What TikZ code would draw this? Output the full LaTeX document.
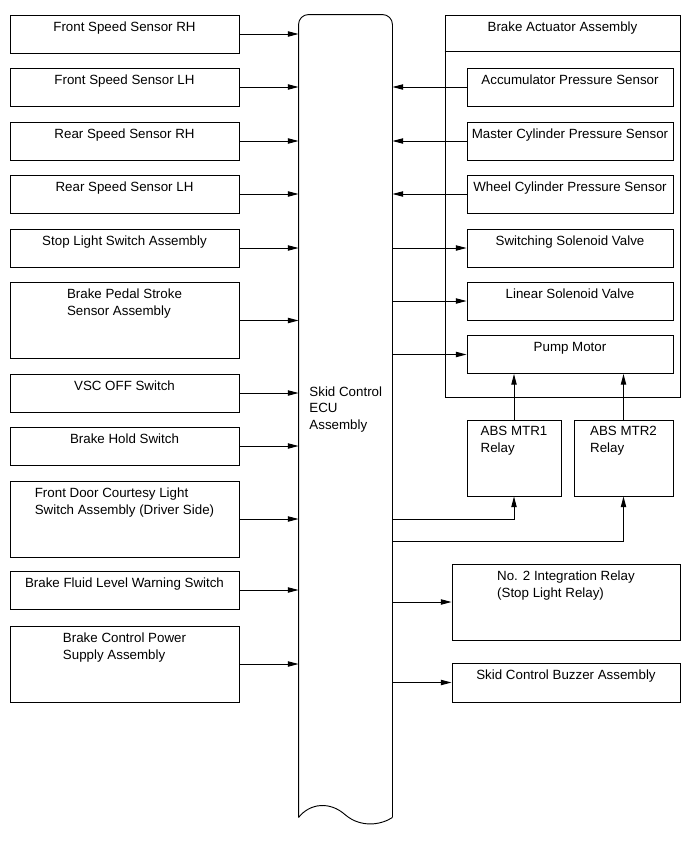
\documentclass[tikz,border=0pt]{standalone}
\usepackage{fontspec}
\setmainfont{Liberation Sans}
\usetikzlibrary{arrows.meta}

\begin{document}
\begin{tikzpicture}[x=0.75pt, y=-0.75pt, >={Triangle[length=8pt,width=4pt]}, line width=0.7pt,
    every node/.style={font=\fontsize{10}{12.5}\selectfont},
    unit/.style={draw, minimum width=171.75pt, minimum height=28.5pt, inner sep=0pt},
    tall/.style={minimum height=57pt},
    part/.style={draw, minimum width=154.5pt, minimum height=28.5pt, inner sep=0pt},
    txt/.style={anchor=north, yshift=-5pt, align=left, inner sep=0pt}]
        \useasboundingbox (0,0) rectangle (689,853);
        % inputs
        \node[unit, label={[txt]north:Front Speed Sensor RH}] (fsrh) at (124.5,34) {};
        \node[unit, label={[txt]north:Front Speed Sensor LH}] (fslh) at (124.5,87) {};
        \node[unit, label={[txt]north:Rear Speed Sensor RH}] (rsrh) at (124.5,141) {};
        \node[unit, label={[txt]north:Rear Speed Sensor LH}] (rslh) at (124.5,194) {};
        \node[unit, label={[txt]north:Stop Light Switch Assembly}] (stop) at (124.5,248) {};
        \node[unit, tall, label={[txt]north:Brake Pedal Stroke\\Sensor Assembly}] (pedal) at (124.5,320.5) {};
        \node[unit, label={[txt]north:VSC OFF Switch}] (vsc) at (124.5,393) {};
        \node[unit, label={[txt]north:Brake Hold Switch}] (hold) at (124.5,446) {};
        \node[unit, tall, label={[txt]north:Front Door Courtesy Light\\Switch Assembly (Driver Side)}] (door) at (124.5,519) {};
        \node[unit, label={[txt]north:Brake Fluid Level Warning Switch}] (fluid) at (124.5,590) {};
        \node[unit, tall, label={[txt]north:Brake Control Power\\Supply Assembly}] (power) at (124.5,664) {};
        % ecu
        \node[minimum width=69.75pt, minimum height=601.5pt, inner sep=0pt] (ecu) at (345.5,416) {};
        \draw[rounded corners=7.5pt] (ecu.south west) -- (ecu.north west) -- (ecu.north east) -- (ecu.south east);
        \draw (ecu.south west) .. controls (310,803) and (330,801) .. (345.5,815) .. controls (361,828) and (381,825) .. (ecu.south east);
        \node[anchor=north west, align=left, inner sep=0pt] (ecu-t) at (309,386) {Skid Control\\ECU\\Assembly};
        % actuator
        \node[draw, minimum width=176.25pt, minimum height=286.5pt, inner sep=0pt, label={[txt]north:Brake Actuator Assembly}] (act) at (562.5,206) {};
        \draw ([yshift=-27.75pt]act.north west) -- ([yshift=-27.75pt]act.north east);
        \node[part, label={[txt]north:Accumulator Pressure Sensor}] (aps) at (570,87) {};
        \node[part, label={[txt]north:Master Cylinder Pressure Sensor}] (mcps) at (570,141) {};
        \node[part, label={[txt]north:Wheel Cylinder Pressure Sensor}] (wcps) at (570,194) {};
        \node[part, label={[txt]north:Switching Solenoid Valve}] (ssv) at (570,248) {};
        \node[part, label={[txt]north:Linear Solenoid Valve}] (lsv) at (570,301) {};
        \node[part, label={[txt]north:Pump Motor}] (pump) at (570,354.5) {};
        % relays and outputs
        \node[draw, minimum width=70.5pt, minimum height=57pt, inner sep=0pt, label={[txt]north:ABS MTR1\\Relay}] (mtr1) at (514,458) {};
        \node[draw, minimum width=74.25pt, minimum height=57pt, inner sep=0pt, label={[txt]north:ABS MTR2\\Relay}] (mtr2) at (623.5,458) {};
        \node[draw, minimum width=171pt, minimum height=57pt, inner sep=0pt, label={[txt]north:No. 2 Integration Relay\\(Stop Light Relay)}] (intg) at (566,602) {};
        \node[draw, minimum width=171pt, minimum height=29.25pt, inner sep=0pt, label={[txt]north:Skid Control Buzzer Assembly}] (buzz) at (566,682.5) {};
        \coordinate (m2) at (ecu.east |- 0,541);
        % arrows
        \foreach \n in {fsrh,fslh,rsrh,rslh,stop,pedal,vsc,hold,door,fluid,power}
            \draw[->] (\n.east) -- (\n.east -| ecu.west);
        \foreach \n in {aps,mcps,wcps}
            \draw[->] (\n.west) -- (\n.west -| ecu.east);
        \foreach \n in {ssv,lsv,pump,intg,buzz}
            \draw[->] (\n.west -| ecu.east) -- (\n.west);
        \draw[->] (mtr1) -- (mtr1 |- pump.south);
        \draw[->] (mtr2) -- (mtr2 |- pump.south);
        \draw[->] (door.east -| ecu.east) -| (mtr1.south);
        \draw[->] (m2) -| (mtr2.south);
    \end{tikzpicture}
\end{document}
